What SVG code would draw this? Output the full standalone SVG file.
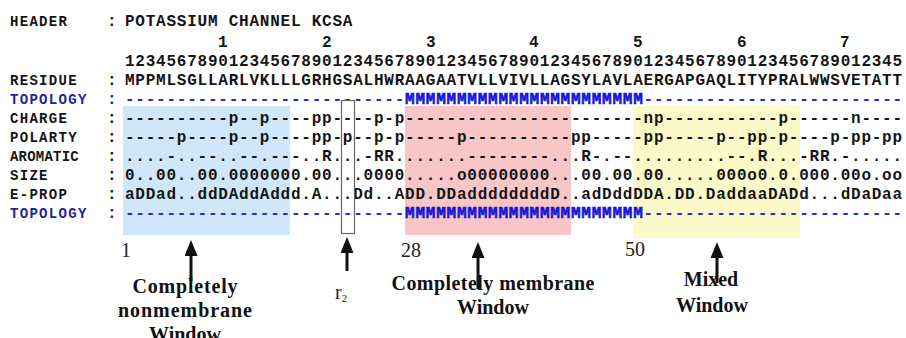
<svg xmlns="http://www.w3.org/2000/svg" width="906" height="338" viewBox="0 0 906 338">
<style>
.mono{font-family:"Liberation Mono","DejaVu Sans Mono",monospace;font-size:16px;font-weight:bold;fill:#151515;letter-spacing:0.77px;white-space:pre}
.lab{font-family:"Liberation Mono","DejaVu Sans Mono",monospace;font-size:14px;font-weight:bold;fill:#151515;letter-spacing:1.3px}
.tlab{fill:#23239a}
.topo{fill:#2a2ad6}
.mm{fill:#1717d8;stroke:#1717d8;stroke-width:0.6px}
.num{font-family:"Liberation Serif","Times New Roman",serif;font-size:20px;fill:#222}
.win{font-family:"Liberation Serif","Times New Roman",serif;font-size:20px;font-weight:bold;fill:#111;text-anchor:middle}
.shaft{stroke:#111;stroke-width:3;fill:none}
</style>
<defs>
<marker id="ah" markerUnits="userSpaceOnUse" markerWidth="16" markerHeight="13" viewBox="0 0 16 13" refX="7" refY="6.5" orient="auto">
<path d="M0,0 L16,6.5 L0,13 z" fill="#111"/>
</marker>
</defs>
<rect width="906" height="338" fill="#ffffff"/>
<g id="bands">
<rect x="123" y="106" width="167" height="129" fill="#cfe7f8"/>
<rect x="405" y="106" width="166" height="129" fill="#f8c6c6"/>
<rect x="633" y="106" width="167" height="132" fill="#fcfac9"/>
</g>
<g id="header">
<text class="lab" x="10" y="26">HEADER</text>
<text class="mono" x="107" y="26">:</text>
<text class="mono" x="125" y="26">POTASSIUM CHANNEL KCSA</text>
</g>
<g id="ruler">
<text class="mono" x="218" y="47">1</text>
<text class="mono" x="322" y="47">2</text>
<text class="mono" x="426" y="47">3</text>
<text class="mono" x="529" y="47">4</text>
<text class="mono" x="633" y="47">5</text>
<text class="mono" x="737" y="47">6</text>
<text class="mono" x="840" y="47">7</text>
<text class="mono" x="125" y="66">123456789012345678901234567890123456789012345678901234567890123456789012345</text>
</g>
<g id="residue">
<text class="lab" x="10" y="85">RESIDUE</text>
<text class="mono" x="107" y="85">:</text>
<text class="mono" x="125" y="85">MPPMLSGLLARLVKLLLGRHGSALHWRAAGAATVLLVIVLLAGSYLAVLAERGAPGAQLITYPRALWWSVETATT</text>
</g>
<g id="topology-top">
<text class="lab tlab" x="10" y="104">TOPOLOGY</text>
<text class="mono tlab" x="107" y="104">:</text>
<text class="mono topo" x="125" y="104">---------------------------<tspan class="mm">MMMMMMMMMMMMMMMMMMMMMMM</tspan>-------------------------</text>
</g>
<g id="charge">
<text class="lab" x="10" y="123">CHARGE</text>
<text class="mono" x="107" y="123">:</text>
<text class="mono" x="125" y="123">----------p--p----pp----p-p-----------------------np-----------p------n----</text>
</g>
<g id="polarty">
<text class="lab" x="10" y="142">POLARTY</text>
<text class="mono" x="107" y="142">:</text>
<text class="mono" x="125" y="142">-----p----p--p----pp-p--p-p-----p----------pp-----pp-----p--pp-p----p-pp-pp</text>
</g>
<g id="aromatic">
<text class="lab" x="10" y="161" textLength="70" lengthAdjust="spacing">AROMATIC</text>
<text class="mono" x="107" y="161">:</text>
<text class="mono" x="125" y="161">....-..--..--.---..R...-RR.......--------...R-.--.........--.R...-RR.-.....</text>
</g>
<g id="size">
<text class="lab" x="10" y="180">SIZE</text>
<text class="mono" x="107" y="180">:</text>
<text class="mono" x="125" y="180">0..00..00.0000000.00...0000.....o00000000...00.00.00.....000o0.0.000.00o.oo</text>
</g>
<g id="eprop">
<text class="lab" x="10" y="199">E-PROP</text>
<text class="mono" x="107" y="199">:</text>
<text class="mono" x="125" y="199">aDDad..ddDAddAddd.A...Dd..ADD.DDaddddddddD..adDddDDA.DD.DaddaaDADd...dDaDaa</text>
</g>
<g id="topology-bottom">
<text class="lab tlab" x="10" y="218">TOPOLOGY</text>
<text class="mono tlab" x="107" y="218">:</text>
<text class="mono topo" x="125" y="218">---------------------------<tspan class="mm">MMMMMMMMMMMMMMMMMMMMMMM</tspan>-------------------------</text>
</g>
<g id="r2-box">
<rect x="341.5" y="100.5" width="13" height="133" fill="none" stroke="#666" stroke-width="1.2"/>
</g>
<g id="positions">
<text class="num" x="121" y="257">1</text>
<text class="num" x="401" y="257">28</text>
<text class="num" x="625" y="256">50</text>
</g>
<g id="label-nonmembrane">
<text class="win" x="185" y="293" textLength="105" lengthAdjust="spacing">Completely</text>
<text class="win" x="185" y="317" textLength="134" lengthAdjust="spacing">nonmembrane</text>
<text class="win" x="185" y="341">Window</text>
</g>
<g id="label-r2">
<text class="num" x="335" y="299" font-size="18">r<tspan font-size="11" dy="3">2</tspan></text>
</g>
<g id="label-membrane">
<text class="win" x="493" y="290" textLength="203" lengthAdjust="spacing">Completely membrane</text>
<text class="win" x="493" y="314">Window</text>
</g>
<g id="label-mixed">
<text class="win" x="711" y="286">Mixed</text>
<text class="win" x="712" y="312">Window</text>
</g>
<g id="connectors">
<line class="shaft" x1="191" y1="281" x2="191" y2="249" marker-end="url(#ah)"/>
<line class="shaft" x1="347" y1="271" x2="347" y2="246" marker-end="url(#ah)"/>
<line class="shaft" x1="478" y1="289" x2="478" y2="251" marker-end="url(#ah)"/>
<line class="shaft" x1="717" y1="283" x2="717" y2="251" marker-end="url(#ah)"/>
</g>
</svg>
